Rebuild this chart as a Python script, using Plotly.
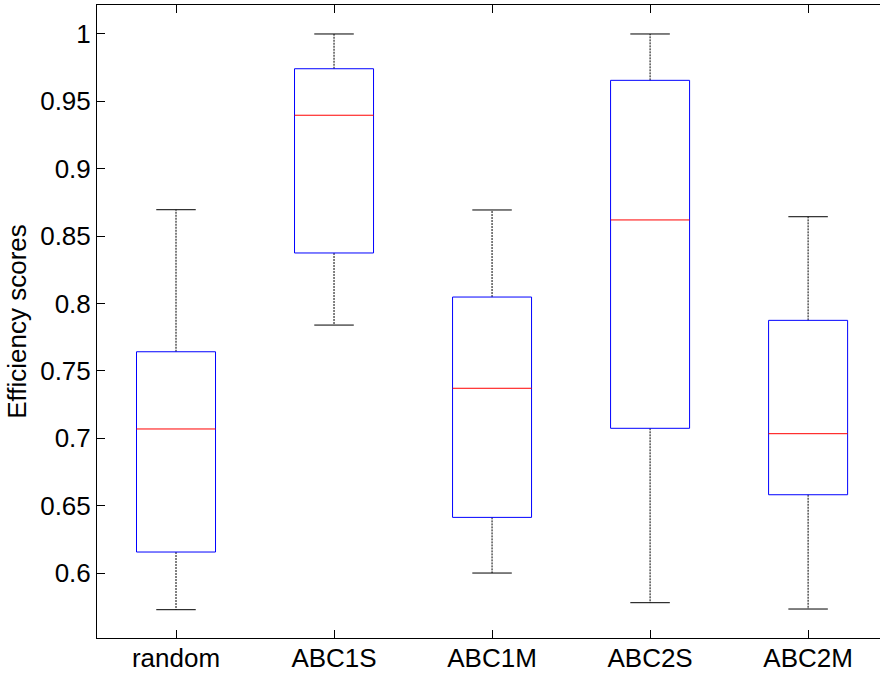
import plotly.graph_objects as go

categories = ["random", "ABC1S", "ABC1M", "ABC2S", "ABC2M"]
lower_whisker = [0.5728, 0.7840, 0.6000, 0.5780, 0.5733]
q1 = [0.6156, 0.8375, 0.6413, 0.7074, 0.6581]
median = [0.7069, 0.9397, 0.7371, 0.8620, 0.7034]
q3 = [0.7642, 0.9742, 0.8048, 0.9656, 0.7875]
upper_whisker = [0.8696, 1.0000, 0.8694, 1.0000, 0.8644]

ytick_vals = [0.6, 0.65, 0.7, 0.75, 0.8, 0.85, 0.9, 0.95, 1.0]
ytick_text = ["0.6", "0.65", "0.7", "0.75", "0.8", "0.85", "0.9", "0.95", "1"]

BOX_HALF = 0.25
CAP_HALF = 0.125

fig = go.Figure()

for i, name in enumerate(categories):
    x = i + 1
    # whiskers (dashed black)
    fig.add_trace(go.Scatter(
        x=[x, x, None, x, x], y=[q3[i], upper_whisker[i], None, q1[i], lower_whisker[i]],
        mode="lines", line=dict(color="black", width=1, dash="2px,1px"),
        hoverinfo="skip", showlegend=False))
    # caps
    fig.add_trace(go.Scatter(
        x=[x - CAP_HALF, x + CAP_HALF, None, x - CAP_HALF, x + CAP_HALF],
        y=[upper_whisker[i], upper_whisker[i], None, lower_whisker[i], lower_whisker[i]],
        mode="lines", line=dict(color="black", width=1),
        hoverinfo="skip", showlegend=False))
    # box
    fig.add_trace(go.Scatter(
        x=[x - BOX_HALF, x + BOX_HALF, x + BOX_HALF, x - BOX_HALF, x - BOX_HALF],
        y=[q1[i], q1[i], q3[i], q3[i], q1[i]],
        mode="lines", line=dict(color="#0000ff", width=1),
        hoverinfo="skip", showlegend=False))
    # median
    fig.add_trace(go.Scatter(
        x=[x - BOX_HALF, x + BOX_HALF], y=[median[i], median[i]],
        mode="lines", line=dict(color="#ff0000", width=1),
        hoverinfo="skip", showlegend=False))

font_family = "Liberation Sans, Arial, Helvetica, sans-serif"

fig.update_layout(
    width=880, height=674,
    margin=dict(l=97, r=0, t=5, b=36, pad=0, autoexpand=False),
    paper_bgcolor="white", plot_bgcolor="white",
    font=dict(family=font_family, size=26, color="black"),
    showlegend=False,
)
fig.update_xaxes(
    range=[0.5, 5.455], automargin=False,
    tickmode="array", tickvals=[1, 2, 3, 4, 5], ticktext=categories,
    ticks="inside", ticklen=8, tickwidth=1, tickcolor="black",
    showline=True, linecolor="black", linewidth=1, mirror="ticks",
    showgrid=False, zeroline=False,
    tickfont=dict(size=26), ticklabelstandoff=-3,
)
fig.update_yaxes(
    range=[0.5518, 1.0215], automargin=False,
    tickmode="array", tickvals=ytick_vals, ticktext=ytick_text,
    ticks="inside", ticklen=8, tickwidth=1, tickcolor="black",
    showline=True, linecolor="black", linewidth=1, mirror=False,
    showgrid=False, zeroline=False,
    tickfont=dict(size=26),
    title=dict(text="Efficiency scores", font=dict(size=26), standoff=6),
)

fig.write_html("out.html")
